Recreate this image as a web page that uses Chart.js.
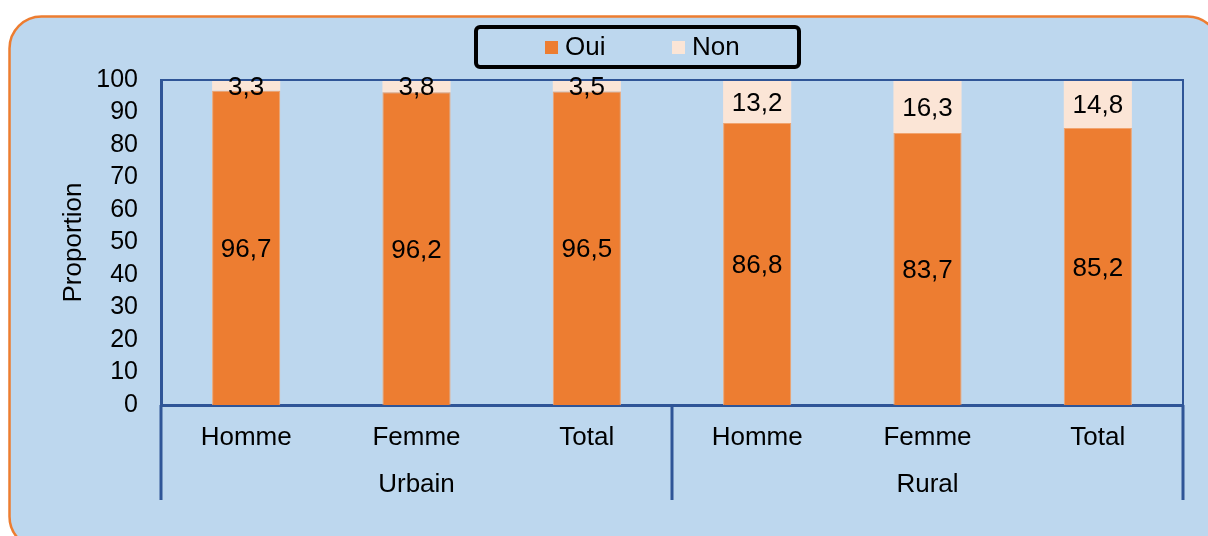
<!DOCTYPE html>
<html>
<head>
<meta charset="utf-8">
<script src="https://cdn.jsdelivr.net/npm/chart.js@4.4.1/dist/chart.umd.min.js"></script>
<style>
  html, body { margin: 0; padding: 0; background: #ffffff; }
  #wrap { position: relative; width: 1208px; height: 536px; overflow: hidden; }
  canvas { display: block; }
</style>
</head>
<body>
<div id="wrap"><canvas id="chart" width="1208" height="536"></canvas></div>
<script>
// Categories: sex within each area of residence
const groups = ['Urbain', 'Rural'];
const categories = ['Homme', 'Femme', 'Total', 'Homme', 'Femme', 'Total'];
const groupSpans = [[0, 2], [3, 5]];

// Shares (%) answering Oui / Non
const oui = [96.7, 96.2, 96.5, 86.8, 83.7, 85.2];
const non = [3.3, 3.8, 3.5, 13.2, 16.3, 14.8];

const yTicks = { min: 0, max: 100, step: 10 };

const FONT = "'Liberation Sans', Arial, Helvetica, sans-serif";
const AXIS_BLUE = '#2F5597';
const fmt = v => v.toFixed(1).replace('.', ',');

Chart.defaults.font.family = FONT;
Chart.defaults.color = '#000000';

// Rounded panel behind the whole chart
const panel = {
  id: 'panel',
  beforeDraw(chart) {
    const ctx = chart.ctx;
    ctx.save();
    ctx.beginPath();
    ctx.roundRect(9.5, 16.5, 1210, 532, 32);
    ctx.fillStyle = '#BDD7EE';
    ctx.fill();
    ctx.lineWidth = 2.5;
    ctx.strokeStyle = '#ED7D31';
    ctx.stroke();
    ctx.restore();
  }
};

// Plot frame, value labels, group labels and separators, boxed legend
const decorations = {
  id: 'decorations',
  afterDatasetsDraw(chart) {
    const ctx = chart.ctx;
    const area = chart.chartArea;
    ctx.save();
    // top and right edges of the plot frame
    ctx.strokeStyle = AXIS_BLUE;
    ctx.lineWidth = 2;
    ctx.beginPath();
    ctx.moveTo(area.left, area.top);
    ctx.lineTo(area.right, area.top);
    ctx.lineTo(area.right, area.bottom);
    ctx.stroke();

    // value labels centred in each segment
    ctx.font = '26px ' + FONT;
    ctx.fillStyle = '#000000';
    ctx.textAlign = 'center';
    ctx.textBaseline = 'middle';
    chart.data.datasets.forEach((ds, di) => {
      const meta = chart.getDatasetMeta(di);
      meta.data.forEach((bar, i) => {
        const cy = (bar.y + bar.base) / 2;
        ctx.fillText(fmt(ds.data[i]), bar.x, cy + 2);
      });
    });
    ctx.restore();
  },
  afterDraw(chart) {
    const ctx = chart.ctx;
    const x = chart.scales.x;
    const area = chart.chartArea;
    const half = (x.getPixelForValue(1) - x.getPixelForValue(0)) / 2;
    ctx.save();
    // group separators below the axis
    const lineBottom = 500;
    const edges = [x.getPixelForValue(0) - half];
    groupSpans.forEach(s => edges.push(x.getPixelForValue(s[1]) + half));
    ctx.strokeStyle = AXIS_BLUE;
    ctx.lineWidth = 3;
    edges.forEach(px => {
      ctx.beginPath();
      ctx.moveTo(px, area.bottom);
      ctx.lineTo(px, lineBottom);
      ctx.stroke();
    });
    // group labels
    ctx.font = '26px ' + FONT;
    ctx.fillStyle = '#000000';
    ctx.textAlign = 'center';
    ctx.textBaseline = 'middle';
    groupSpans.forEach((s, gi) => {
      const cx = (x.getPixelForValue(s[0]) + x.getPixelForValue(s[1])) / 2;
      ctx.fillText(groups[gi], cx, 485);
    });

    // legend inside a black rounded box
    const box = { x: 476, y: 27, w: 323, h: 40 };
    ctx.lineWidth = 4;
    ctx.strokeStyle = '#000000';
    ctx.beginPath();
    ctx.roundRect(box.x, box.y, box.w, box.h, 4);
    ctx.stroke();
    const itemX = [545, 672];
    ctx.font = '26px ' + FONT;
    chart.data.datasets.forEach((ds, di) => {
      const sx = itemX[di];
      ctx.fillStyle = ds.backgroundColor;
      ctx.fillRect(sx, 41, 13, 13);
      ctx.fillStyle = '#000000';
      ctx.textAlign = 'left';
      ctx.fillText(ds.label, sx + 20, 48);
    });
    ctx.restore();
  }
};

new Chart(document.getElementById('chart'), {
  type: 'bar',
  data: {
    labels: categories,
    datasets: [
      { label: 'Oui', data: oui, backgroundColor: '#ED7D31', borderColor: '#F2A46E', borderWidth: 1 },
      { label: 'Non', data: non, backgroundColor: '#FBE5D6', borderColor: '#FBE5D6', borderWidth: 0 }
    ]
  },
  options: {
    responsive: false,
    animation: false,
    devicePixelRatio: 1,
    layout: { padding: { top: 80, right: 25, left: 0, bottom: 0 } },
    datasets: { bar: { barPercentage: 0.4, categoryPercentage: 1.0 } },
    plugins: {
      legend: { display: false },
      tooltip: { enabled: false }
    },
    scales: {
      x: {
        stacked: true,
        grid: { display: false, drawTicks: false },
        border: { display: true, color: AXIS_BLUE, width: 3 },
        ticks: { font: { size: 26 }, color: '#000000', padding: 17, maxRotation: 0, autoSkip: false },
        afterFit(scale) { scale.height = 131; }
      },
      y: {
        stacked: true,
        min: yTicks.min,
        max: yTicks.max,
        grid: { display: false, drawTicks: false },
        border: { display: true, color: AXIS_BLUE, width: 3 },
        ticks: { stepSize: yTicks.step, font: { size: 25 }, color: '#000000', padding: 23, autoSkip: false },
        title: {
          display: true,
          text: 'Proportion',
          font: { size: 26 },
          color: '#000000',
          padding: { top: 58, bottom: 0 }
        },
        afterFit(scale) { scale.width = 161; }
      }
    }
  },
  plugins: [panel, decorations]
});
</script>
</body>
</html>
